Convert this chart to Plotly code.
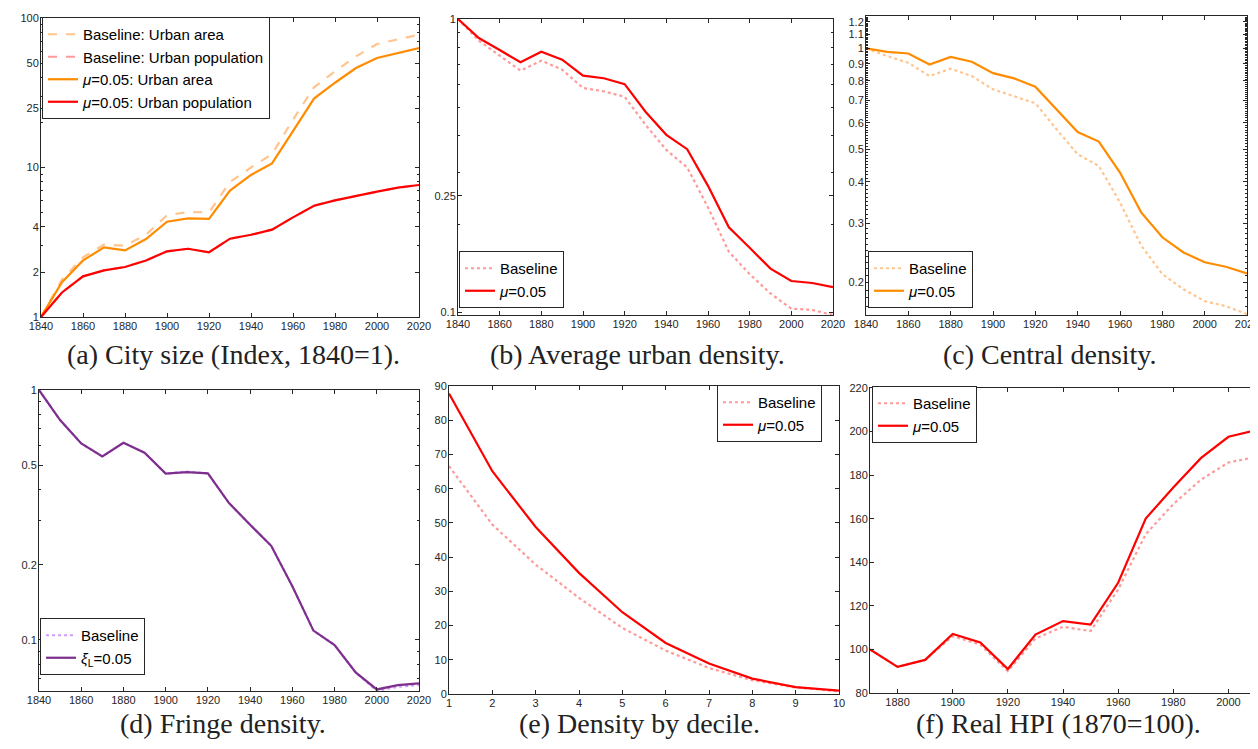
import plotly.graph_objects as go
import numpy as np

# ---------------- data ----------------
years = [1840, 1850, 1860, 1870, 1880, 1890, 1900, 1910, 1920, 1930,
         1940, 1950, 1960, 1970, 1980, 1990, 2000, 2010, 2020]

# (a) City size (Index, 1840=1)
a_base_area = [1, 1.78, 2.51, 3.05, 3.0, 3.55, 4.79, 5.04, 5.01, 8.0,
               10.0, 12.3, 20.9, 34.4, 44.0, 55.4, 67.0, 71.6, 77.4]
a_base_pop = [1, 1.46, 1.87, 2.05, 2.16, 2.39, 2.75, 2.86, 2.71, 3.34,
              3.55, 3.84, 4.64, 5.55, 6.03, 6.48, 6.89, 7.33, 7.64]
a_mu_area = [1, 1.71, 2.39, 2.92, 2.79, 3.32, 4.34, 4.57, 4.53, 7.0,
             8.91, 10.66, 17.5, 28.9, 36.9, 46.3, 54.0, 58.3, 63.0]
a_mu_pop = [1, 1.46, 1.87, 2.05, 2.16, 2.39, 2.75, 2.86, 2.71, 3.34,
            3.55, 3.84, 4.64, 5.55, 6.03, 6.48, 6.89, 7.33, 7.64]

# (b) Average urban density
b_base = [1, 0.844, 0.750, 0.667, 0.721, 0.672, 0.582, 0.567, 0.543, 0.436,
          0.358, 0.312, 0.228, 0.161, 0.135, 0.116, 0.103, 0.102, 0.098]
b_mu = [1, 0.861, 0.784, 0.712, 0.774, 0.727, 0.641, 0.628, 0.600, 0.483,
        0.403, 0.360, 0.270, 0.195, 0.166, 0.141, 0.128, 0.126, 0.122]

# (c) Central density
c_base = [1, 0.949, 0.906, 0.827, 0.870, 0.827, 0.755, 0.721, 0.686, 0.574,
          0.483, 0.446, 0.347, 0.258, 0.212, 0.191, 0.176, 0.170, 0.161]
c_mu = [1, 0.977, 0.966, 0.896, 0.944, 0.913, 0.844, 0.814, 0.769, 0.658,
        0.563, 0.527, 0.426, 0.324, 0.273, 0.246, 0.230, 0.223, 0.213]

# (d) Fringe density
d_base = [1, 0.758, 0.611, 0.542, 0.615, 0.561, 0.463, 0.472, 0.464, 0.353,
          0.289, 0.238, 0.164, 0.109, 0.0955, 0.0742, 0.0625, 0.0650, 0.0660]
d_xi = [1, 0.758, 0.611, 0.542, 0.615, 0.561, 0.463, 0.469, 0.464, 0.353,
        0.289, 0.238, 0.164, 0.109, 0.0955, 0.0742, 0.0634, 0.0660, 0.0670]

# (e) Density by decile
deciles = [1, 2, 3, 4, 5, 6, 7, 8, 9, 10]
e_base = [66.6, 49.5, 37.8, 28.1, 19.3, 12.7, 7.6, 4.0, 1.9, 0.8]
e_mu = [87.8, 65.1, 48.8, 35.4, 23.9, 14.9, 8.9, 4.5, 2.0, 1.0]

# (f) Real HPI (1870=100)
hpi_years = [1870, 1880, 1890, 1900, 1910, 1920, 1930, 1940, 1950, 1960,
             1970, 1980, 1990, 2000, 2010]
f_base = [100, 92.0, 95.2, 106.1, 102.2, 90.0, 105.0, 110.4, 108.4, 127.5,
          152.9, 166.7, 177.9, 185.8, 188.4]
f_mu = [100, 92.0, 95.2, 107.1, 103.2, 91.0, 106.8, 113.0, 111.4, 130.6,
        160.1, 174.3, 187.8, 197.6, 200.6]

captions = ["(a) City size (Index, 1840=1).", "(b) Average urban density.",
            "(c) Central density.", "(d) Fringe density.",
            "(e) Density by decile.", "(f) Real HPI (1870=100)."]

# ---------------- styles ----------------
ORANGE = "#FF8C00"
LORANGE = "#FFC58F"
RED = "#FF0000"
LRED = "#FF9A9A"
PURPLE = "#7E2F8E"
LPURPLE = "#D09BFF"
AX = "#262626"
W = 1258
H = 749

def px(x0, x1):
    return [x0 / W, x1 / W]

def py(top, bottom):
    return [1 - bottom / H, 1 - top / H]

fig = go.Figure()

def add(x, y, color, dash, name, axn, legend, width=2.2):
    fig.add_trace(go.Scatter(
        x=x, y=y, mode="lines", name=name,
        line=dict(color=color, dash=dash, width=width),
        xaxis="x" + ("" if axn == 1 else str(axn)),
        yaxis="y" + ("" if axn == 1 else str(axn)),
        legend=legend))

MU = "<i>μ</i>=0.05"
# (a)
add(years, a_base_area, LORANGE, "dash", "Baseline: Urban area", 1, "legend")
add(years, a_base_pop, LRED, "dash", "Baseline: Urban population", 1, "legend")
add(years, a_mu_area, ORANGE, "solid", MU + ": Urban area", 1, "legend")
add(years, a_mu_pop, RED, "solid", MU + ": Urban population", 1, "legend")
# (b)
add(years, b_base, LRED, "dot", "Baseline", 2, "legend2")
add(years, b_mu, RED, "solid", MU, 2, "legend2")
# (c)
add(years, c_base, LORANGE, "dot", "Baseline", 3, "legend3")
add(years, c_mu, ORANGE, "solid", MU, 3, "legend3")
# (d)
add(years, d_base, LPURPLE, "dot", "Baseline", 4, "legend4")
add(years, d_xi, PURPLE, "solid", "<i>ξ</i><sub>L</sub>=0.05", 4, "legend4")
# (e)
add(deciles, e_base, LRED, "dot", "Baseline", 5, "legend5")
add(deciles, e_mu, RED, "solid", MU, 5, "legend5")
# (f)
add(hpi_years, f_base, LRED, "dot", "Baseline", 6, "legend6")
add(hpi_years, f_mu, RED, "solid", MU, 6, "legend6")

tickfont = dict(family="Liberation Sans, Arial, sans-serif", size=11, color=AX)

def axis(domain, anchor, standoff, **kw):
    d = dict(domain=domain, anchor=anchor, showline=True, linecolor=AX,
             linewidth=1, mirror="ticks", ticks="inside", ticklen=4,
             tickcolor=AX, tickwidth=1, showgrid=False, zeroline=False,
             tickfont=tickfont, ticklabelstandoff=standoff, automargin=False)
    d.update(kw)
    return d

def xaxis(domain, anchor, **kw):
    return axis(domain, anchor, -1, **kw)

def yaxis(domain, anchor, **kw):
    return axis(domain, anchor, -1, **kw)

def minor(vals):
    return dict(tickmode="array", tickvals=vals, ticks="inside", ticklen=2,
                tickcolor=AX, showgrid=False)

xyears = dict(tickmode="array", tickvals=list(range(1840, 2021, 20)),
              range=[1840, 2020])
lg = np.log10

minor_a = [v * m for m in (1, 10) for v in range(2, 10)]
minor_b = [v / 10 for v in range(2, 10)]
minor_c = [round(v * 0.01, 2) for v in range(16, 126)]
minor_d = [0.07, 0.08, 0.09] + [v / 10 for v in range(2, 10)]

layout = dict(
    template="none",
    width=W, height=H, margin=dict(l=0, r=0, t=0, b=0, autoexpand=False),
    paper_bgcolor="white", plot_bgcolor="white", showlegend=True,
    # (a)
    xaxis=xaxis(px(33, 411), "y", **xyears),
    yaxis=yaxis(py(10, 309), "x", type="log", range=[0, 2],
                tickmode="array", tickvals=[1, 2, 4, 10, 25, 50, 100],
                ticktext=["1", "2", "4", "10", "25", "50", "100"],
                minor=minor(minor_a)),
    # (b)
    xaxis2=xaxis(px(450, 825), "y2", **xyears),
    yaxis2=yaxis(py(11, 307), "x2", type="log", range=[lg(0.098), 0],
                 tickmode="array", tickvals=[0.1, 0.25, 1],
                 ticktext=["0.1", "0.25", "1"], minor=minor(minor_b)),
    # (c)
    xaxis3=xaxis(px(858, 1239), "y3", **xyears),
    yaxis3=yaxis(py(8, 307), "x3", type="log", range=[lg(0.16), lg(1.25)],
                 tickmode="array",
                 tickvals=[0.2, 0.3, 0.4, 0.5, 0.6, 0.7, 0.8, 0.9, 1, 1.1, 1.2],
                 ticktext=["0.2", "0.3", "0.4", "0.5", "0.6", "0.7", "0.8",
                           "0.9", "1", "1.1", "1.2"],
                 minor=minor(minor_c)),
    # (d)
    xaxis4=xaxis(px(31, 411), "y4", **xyears),
    yaxis4=yaxis(py(382, 683), "x4", type="log", range=[lg(0.0625), 0],
                 tickmode="array", tickvals=[0.1, 0.2, 0.5, 1],
                 ticktext=["0.1", "0.2", "0.5", "1"], minor=minor(minor_d)),
    # (e)
    xaxis5=xaxis(px(441, 831), "y5", tickmode="array", tickvals=deciles,
                 range=[1, 10]),
    yaxis5=yaxis(py(378, 686), "x5", tickmode="array",
                 tickvals=list(range(0, 91, 10)), range=[0, 90]),
    # (f)
    xaxis6=xaxis(px(862, 1248), "y6", tickmode="array",
                 tickvals=list(range(1880, 2001, 20)), range=[1870, 2010]),
    yaxis6=yaxis(py(380, 685), "x6", tickmode="array",
                 tickvals=list(range(80, 221, 20)), range=[80, 220]),
)

legfont = dict(family="Liberation Sans, Arial, sans-serif", size=15, color="black")

def legend(x, y, xanchor="left"):
    return dict(x=x / W, y=1 - y / H, xanchor=xanchor, yanchor="top",
                xref="paper", yref="paper", bgcolor="white", bordercolor=AX,
                borderwidth=1, font=legfont, tracegroupgap=0, itemwidth=30)

layout["legend"] = legend(34, 9)
layout["legend2"] = legend(451, 243)
layout["legend3"] = legend(860, 243)
layout["legend4"] = legend(32, 610)
layout["legend5"] = legend(814, 377, "right")
layout["legend6"] = legend(864, 378)

fig.update_layout(**layout)

cap_pos = [(225, 346), (630, 346), (1042, 346), (215, 715), (632, 715), (1050, 715)]
for text, (cx, cy) in zip(captions, cap_pos):
    fig.add_annotation(text=text, x=cx / W, y=1 - cy / H, xref="paper",
                       yref="paper", showarrow=False, xanchor="center",
                       yanchor="middle",
                       font=dict(family="Liberation Serif, serif", size=28,
                                 color="#222222"))

fig.write_html("out.html")
